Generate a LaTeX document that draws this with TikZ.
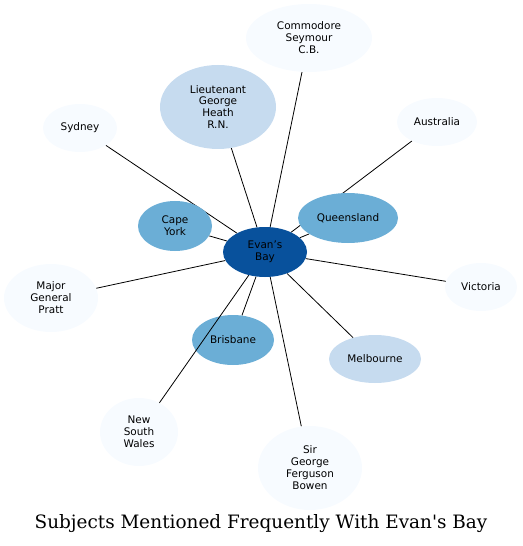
\documentclass[tikz,border=0pt]{standalone}
\usepackage{fontspec}
\setmainfont{DejaVu Sans}
\newfontfamily\titlefont{DejaVu Serif}
\usepackage{tikz}
\usetikzlibrary{shapes.geometric, backgrounds}
\definecolor{bluedark}{HTML}{08519C}
\definecolor{bluemid}{HTML}{6BAED6}
\definecolor{bluelight}{HTML}{C6DBEF}
\definecolor{bluepale}{HTML}{F7FBFF}

\begin{document}
\begin{tikzpicture}[
  x=1bp, y=-1bp,
  font=\fontsize{10.5}{12}\selectfont,
  topic/.style={ellipse, draw=none, inner sep=0pt, align=center},
  link/.style={black, line width=0.8bp},
]
  \useasboundingbox (0,0) rectangle (523,546);

  \node[topic, fill=bluedark, minimum width=84bp, minimum height=50bp] (evans) at (265,252) {Evan's\\Bay};

  \node[topic, fill=bluepale, minimum width=126bp, minimum height=68bp] (seymour) at (309,38) {Commodore\\Seymour\\C.B.};
  \node[topic, fill=bluelight, minimum width=116bp, minimum height=84bp] (heath) at (218,107) {Lieutenant\\George\\Heath\\R.N.};
  \node[topic, fill=bluepale, minimum width=74bp, minimum height=48bp] (sydney) at (80,128) {Sydney};
  \node[topic, fill=bluepale, minimum width=80bp, minimum height=48bp] (australia) at (437,122) {Australia};
  \node[topic, fill=bluemid, minimum width=74bp, minimum height=50bp] (capeyork) at (175,226) {Cape\\York};
  \node[topic, fill=bluemid, minimum width=100bp, minimum height=50bp] (queensland) at (348,218) {Queensland};
  \node[topic, fill=bluepale, minimum width=94bp, minimum height=68bp] (pratt) at (51,298) {Major\\General\\Pratt};
  \node[topic, fill=bluepale, minimum width=72bp, minimum height=48bp] (victoria) at (481,287) {Victoria};
  \node[topic, fill=bluemid, minimum width=82bp, minimum height=50bp] (brisbane) at (233,340) {Brisbane};
  \node[topic, fill=bluelight, minimum width=92bp, minimum height=48bp] (melbourne) at (375,359) {Melbourne};
  \node[topic, fill=bluepale, minimum width=78bp, minimum height=68bp] (nsw) at (139,432) {New\\South\\Wales};
  \node[topic, fill=bluepale, minimum width=104bp, minimum height=84bp] (bowen) at (310,468) {Sir\\George\\Ferguson\\Bowen};

  % edges behind the ellipses
  \begin{pgfonlayer}{background}
    \draw[link] (evans) -- (seymour);
    \draw[link] (evans) -- (heath);
    \draw[link] (evans) -- (sydney);
    \draw[link] (evans) -- (australia);
    \draw[link] (evans) -- (capeyork);
    \draw[link] (evans) -- (queensland);
    \draw[link] (evans) -- (pratt);
    \draw[link] (evans) -- (victoria);
    \draw[link] (evans) -- (brisbane);
    \draw[link] (evans) -- (melbourne);
    \draw[link] (evans) -- (bowen);
  \end{pgfonlayer}
  \draw[link] (evans) -- (nsw);

  \node[font=\titlefont\fontsize{18.5}{20}\selectfont] (title) at (261,524) {Subjects Mentioned Frequently With Evan's Bay};
\end{tikzpicture}
\end{document}
